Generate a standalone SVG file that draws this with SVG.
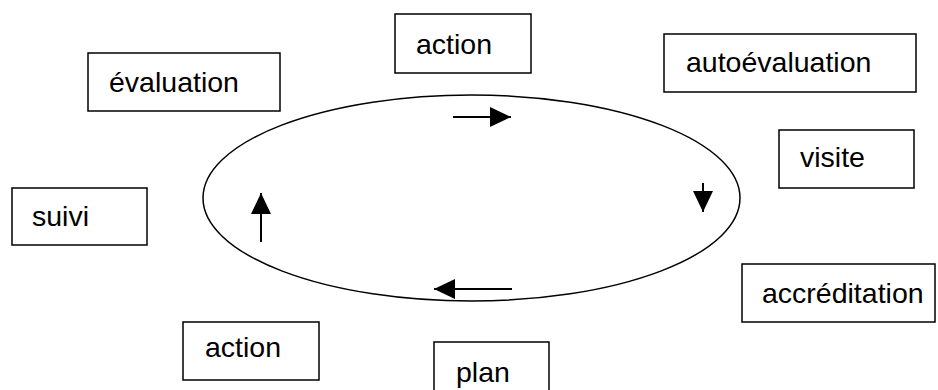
<svg xmlns="http://www.w3.org/2000/svg" width="938" height="390" viewBox="0 0 938 390">
<defs>
<style>
.box{fill:#fff;stroke:#000;stroke-width:1.5}
.lbl{font-family:"Liberation Sans",Arial,sans-serif;font-size:28.5px;fill:#000}
.conn{stroke:#000;stroke-width:2;fill:none}
</style>
<marker id="ah" markerUnits="userSpaceOnUse" markerWidth="21" markerHeight="20" refX="21" refY="10" orient="auto" viewBox="0 0 21 20">
<path d="M0,0 L21,10 L0,20 Z" fill="#000"/>
</marker>
</defs>
<rect width="938" height="390" fill="#fff"/>
<g id="cycle">
<ellipse cx="471.5" cy="198" rx="268.5" ry="103" fill="none" stroke="#000" stroke-width="1.5"/>
</g>
<g id="connectors">
<line class="conn" x1="453" y1="117" x2="511" y2="117" marker-end="url(#ah)"/>
<line class="conn" x1="703" y1="183" x2="703" y2="212" marker-end="url(#ah)"/>
<line class="conn" x1="512" y1="289" x2="434" y2="289" marker-end="url(#ah)"/>
<line class="conn" x1="261" y1="242" x2="261" y2="193" marker-end="url(#ah)"/>
</g>
<g id="n-evaluation"><rect class="box" x="88" y="53" width="192" height="58"/><text class="lbl" x="109" y="92">évaluation</text></g>
<g id="n-action-top"><rect class="box" x="395" y="14" width="136" height="59"/><text class="lbl" x="416" y="54">action</text></g>
<g id="n-autoevaluation"><rect class="box" x="664" y="34" width="252" height="58"/><text class="lbl" x="686" y="72">autoévaluation</text></g>
<g id="n-visite"><rect class="box" x="779" y="130" width="135" height="58"/><text class="lbl" x="800" y="167">visite</text></g>
<g id="n-suivi"><rect class="box" x="12" y="188" width="135" height="57"/><text class="lbl" x="32" y="226">suivi</text></g>
<g id="n-accreditation"><rect class="box" x="742" y="264" width="193" height="58"/><text class="lbl" x="762" y="303">accréditation</text></g>
<g id="n-action-bottom"><rect class="box" x="183" y="322" width="136" height="58"/><text class="lbl" x="205" y="357">action</text></g>
<g id="n-plan"><rect class="box" x="434" y="342" width="115" height="58"/><text class="lbl" x="456" y="382">plan</text></g>
</svg>
